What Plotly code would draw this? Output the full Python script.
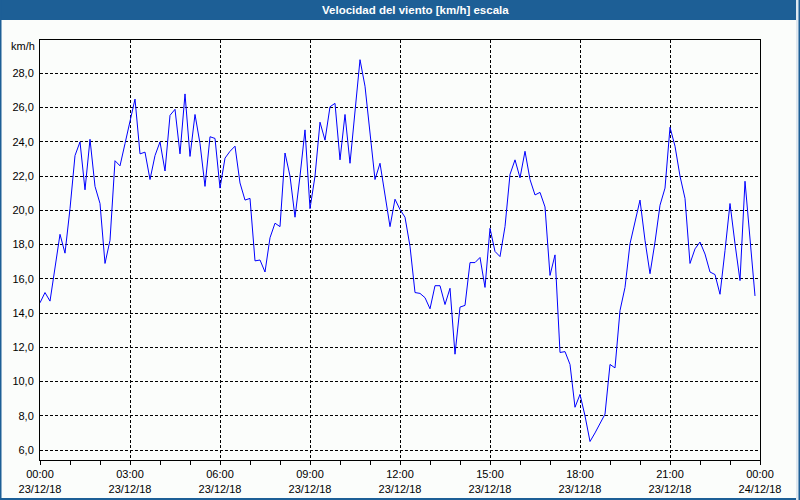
import pandas as pd
import plotly.graph_objects as go

# ---- data (10-minute samples, 23/12/18 00:00 .. 23:50) ----
start_time = "2018-12-23 00:00"
n_samples = 144
wind_kmh = [
    # 00:00 - 04:50
    14.6, 15.2, 14.7, 16.7, 18.6, 17.5, 20.1, 23.2, 24.0, 21.2, 24.15, 21.4,
    20.4, 16.9, 18.25, 22.9, 22.6, 23.9, 25.3, 26.5, 23.3, 23.4, 21.8, 23.2,
    24.0, 22.3, 25.55, 25.9, 23.3, 26.8,
    # 05:00 - 09:50
    23.15, 25.6, 23.9, 21.4, 24.3, 24.2, 21.3, 23.05, 23.45, 23.75, 21.6, 20.6,
    20.7, 17.05, 17.1, 16.4, 18.4, 19.25, 19.05, 23.35, 22.0, 19.6, 22.0, 24.7,
    20.1, 22.0, 25.15, 24.1, 26.05, 26.25,
    # 10:00 - 14:40
    22.95, 25.6, 22.75, 25.9, 28.8, 27.25, 24.4, 21.8, 22.75, 21.0, 19.05, 20.65,
    20.05, 19.6, 17.9, 15.2, 15.15, 14.9, 14.25, 15.6, 15.6, 14.5, 15.45, 11.6,
    14.35, 14.45, 16.95, 16.95, 17.25,
    # 14:50 - 19:20
    15.5, 18.95, 17.6, 17.3, 19.05, 22.1, 22.95, 21.9, 23.45, 21.8, 20.9, 21.05,
    20.2, 16.2, 17.4, 11.7, 11.75, 11.0, 8.5, 9.25, 8.0, 6.5, 7.0, 7.55,
    8.1, 11.0, 10.8, 14.15,
    # 19:30 - 23:50
    15.5, 18.05, 19.25, 20.6, 18.25, 16.3, 18.15, 20.3, 21.3, 24.85, 23.75, 22.0,
    20.7, 16.9, 17.75, 18.15, 17.45, 16.4, 16.25, 15.1, 17.65, 20.4, 18.05, 15.9,
    21.7, 18.45, 15.0,
]

x_tick_vals = ["2018-12-23 00:00", "2018-12-23 03:00", "2018-12-23 06:00",
               "2018-12-23 09:00", "2018-12-23 12:00", "2018-12-23 15:00",
               "2018-12-23 18:00", "2018-12-23 21:00", "2018-12-24 00:00"]
x_tick_text = ["00:00<br>23/12/18", "03:00<br>23/12/18", "06:00<br>23/12/18",
               "09:00<br>23/12/18", "12:00<br>23/12/18", "15:00<br>23/12/18",
               "18:00<br>23/12/18", "21:00<br>23/12/18", "00:00<br>24/12/18"]
y_tick_vals = [6, 8, 10, 12, 14, 16, 18, 20, 22, 24, 26, 28]

title_text = "Velocidad del viento [km/h] escala"
unit_text = "km/h"

times = pd.date_range(start_time, periods=n_samples, freq="10min")

FONT = "Liberation Sans, Arial, sans-serif"
BAR_BLUE = "#1d5f96"
BG = "#fbfdfb"

fig = go.Figure()
fig.add_trace(go.Scatter(
    x=times, y=wind_kmh, mode="lines",
    line=dict(color="#0000ff", width=1),
    hoverinfo="skip", showlegend=False,
))

W, H = 800, 500
L, R, T, B = 40, 40, 40, 40
pw, ph = W - L - R, H - T - B


def px_x(px):
    return (px - L) / pw


def px_y(py):
    return (H - B - py) / ph


shapes = [
    # title bar
    dict(type="rect", xref="paper", yref="paper",
         x0=px_x(0), x1=px_x(800), y0=px_y(20), y1=px_y(0),
         fillcolor=BAR_BLUE, line=dict(width=0), layer="above"),
    # window frame left / bottom / right
    dict(type="rect", xref="paper", yref="paper",
         x0=px_x(0), x1=px_x(1.5), y0=px_y(500), y1=px_y(0),
         fillcolor=BAR_BLUE, line=dict(width=0), layer="above"),
    dict(type="rect", xref="paper", yref="paper",
         x0=px_x(0), x1=px_x(800), y0=px_y(500), y1=px_y(498),
         fillcolor=BAR_BLUE, line=dict(width=0), layer="above"),
    dict(type="rect", xref="paper", yref="paper",
         x0=px_x(796), x1=px_x(800), y0=px_y(500), y1=px_y(0),
         fillcolor="#dfe8f0", line=dict(width=0), layer="above"),
    dict(type="rect", xref="paper", yref="paper",
         x0=px_x(798.5), x1=px_x(800), y0=px_y(500), y1=px_y(0),
         fillcolor=BAR_BLUE, line=dict(width=0), layer="above"),
]

annotations = [
    dict(text="<b>" + title_text + "</b>", xref="paper", yref="paper",
         x=px_x(415), y=px_y(10), xanchor="center", yanchor="middle",
         showarrow=False, font=dict(family=FONT, size=11.5, color="white")),
    dict(text=unit_text, xref="paper", yref="paper",
         x=px_x(37), y=px_y(46), xanchor="right", yanchor="middle",
         showarrow=False, font=dict(family=FONT, size=11, color="black")),
]

fig.update_layout(
    width=W, height=H,
    margin=dict(l=L, r=R, t=T, b=B, autoexpand=False),
    paper_bgcolor=BG, plot_bgcolor=BG,
    separators=",.",
    font=dict(family=FONT, size=11, color="black"),
    shapes=shapes, annotations=annotations,
    xaxis=dict(
        type="date", automargin=False,
        range=["2018-12-23 00:00", "2018-12-24 00:00"],
        tickvals=x_tick_vals, ticktext=x_tick_text,
        ticks="outside", ticklen=4, tickcolor="black", tickwidth=1,
        minor=dict(dtick=3600000, ticks="outside", ticklen=4,
                   tickcolor="black", showgrid=False),
        showgrid=True, gridcolor="black", gridwidth=1, griddash="3px,2px",
        showline=True, linecolor="black", linewidth=1, mirror=True,
        zeroline=False,
        tickfont=dict(family=FONT, size=11, color="black"),
    ),
    yaxis=dict(
        automargin=False,
        range=[5.42, 29.95],
        tickvals=y_tick_vals, tickformat=".1f",
        ticks="", ticklabelstandoff=3,
        showgrid=True, gridcolor="black", gridwidth=1, griddash="3px,2px",
        showline=True, linecolor="black", linewidth=1, mirror=True,
        zeroline=False,
        tickfont=dict(family=FONT, size=11, color="black"),
    ),
)

fig.write_html(
    "out.html",
    config={"displayModeBar": False, "staticPlot": True},
    post_script="document.body.style.margin='0';"
                "document.body.style.overflow='hidden';"
                "document.documentElement.style.overflow='hidden';",
)
